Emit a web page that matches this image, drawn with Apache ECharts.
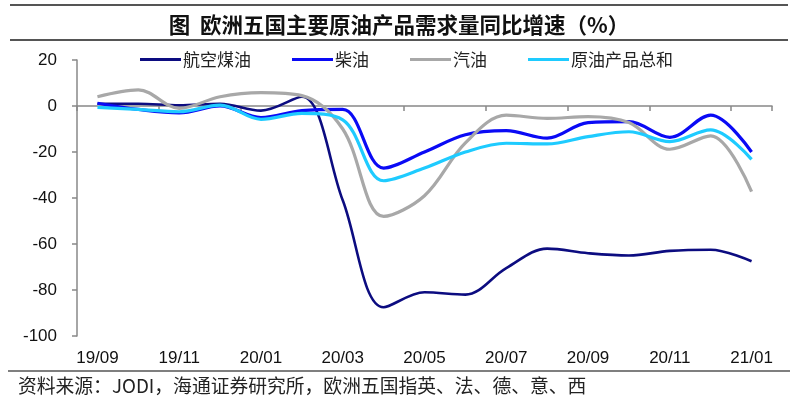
<!DOCTYPE html>
<html>
<head>
<meta charset="utf-8">
<script src="https://cdn.jsdelivr.net/npm/echarts@6/dist/echarts.min.js"></script>
<style>
html,body{margin:0;padding:0;background:#fff;}
#chart{width:798px;height:404px;}
</style>
</head>
<body>
<div id="chart"></div>
<script>
const months = ['19/09','19/10','19/11','19/12','20/01','20/02','20/03','20/04','20/05','20/06','20/07','20/08','20/09','20/10','20/11','20/12','21/01'];
const jetFuel  = [1, 1, 0.3, 1, -2, 4, -41, -87.5, -81, -82, -70.5, -62, -64, -65, -63, -62.5, -67.5];
const diesel   = [1.2, -1.5, -3, 0, -5, -2, -1.5, -27, -20, -12.5, -10.7, -14, -7.2, -6.8, -13.6, -4, -20];
const gasoline = [4, 7, -1, 4, 5.8, 4.5, -10, -48, -39, -16, -4, -5.4, -4.6, -7.2, -18.8, -13, -37.2];
const total    = [-0.6, -1.5, -2.5, 0.4, -5.8, -3.2, -6, -32.5, -27, -20, -16.2, -16.5, -13.3, -11.2, -15.5, -10.4, -23.2];
const seriesNames = ['航空煤油', '柴油', '汽油', '原油产品总和'];
const yTicks = { min: -100, max: 20, step: 20 };
const titleText = '图  欧洲五国主要原油产品需求量同比增速（%）';
const sourceText = '资料来源：JODI，海通证券研究所，欧洲五国指英、法、德、意、西';

const colors = ['#0c0c80', '#0a0af5', '#a8a8a8', '#1ecbff'];
const widths = [2.6, 3.2, 3.2, 3.2];
const dataSets = [jetFuel, diesel, gasoline, total];
const fontLatin = '"Liberation Sans", Arial, "Noto Sans CJK SC", sans-serif';
const fontCJK = '"Noto Sans CJK SC", "Liberation Sans", sans-serif';

const chart = echarts.init(document.getElementById('chart'), null, {renderer: 'canvas'});
chart.setOption({
  backgroundColor: '#fff',
  animation: false,
  title: {
    text: titleText,
    left: 'center',
    top: 9,
    textStyle: { fontFamily: fontCJK, fontSize: 21.5, fontWeight: 'bold', color: '#111' }
  },
  legend: {
    left: 135,
    top: 46,
    itemGap: 41,
    itemWidth: 41,
    itemHeight: 3,
    icon: 'rect',
    data: seriesNames,
    textStyle: { fontFamily: fontCJK, fontSize: 17, color: '#222', padding: [0,0,0,-3] }
  },
  grid: { left: 77, right: 26, top: 60, bottom: 68, containLabel: false },
  xAxis: [
    {
      type: 'category',
      data: months,
      boundaryGap: true,
      position: 'bottom',
      axisLine: { show: false, onZero: false },
      axisTick: { show: false },
      axisLabel: { interval: 1, margin: 14, fontFamily: fontLatin, fontSize: 17, color: '#111' }
    },
    {
      type: 'category',
      data: months,
      boundaryGap: true,
      position: 'bottom',
      axisLine: { show: true, onZero: true, lineStyle: { color: '#888', width: 1.5 } },
      axisTick: { show: true, interval: 1, length: 5, lineStyle: { color: '#888', width: 1.5 } },
      axisLabel: { show: false }
    }
  ],
  yAxis: {
    type: 'value',
    min: yTicks.min,
    max: yTicks.max,
    interval: yTicks.step,
    axisLine: { show: true, lineStyle: { color: '#888', width: 1.5 } },
    axisTick: { show: true, length: 5, lineStyle: { color: '#888', width: 1.5 } },
    splitLine: { show: false },
    axisLabel: { margin: 20, fontFamily: fontLatin, fontSize: 17, color: '#111' }
  },
  series: seriesNames.map((name, i) => ({
    name: name,
    type: 'line',
    xAxisIndex: 0,
    data: dataSets[i],
    smooth: 0.35,
    showSymbol: false,
    symbol: 'none',
    color: colors[i],
    lineStyle: { color: colors[i], width: widths[i] }
  })),
  graphic: [
    { type: 'line', shape: { x1: 10, y1: 5, x2: 788, y2: 5 }, style: { stroke: '#555', lineWidth: 2 } },
    { type: 'line', shape: { x1: 10, y1: 40, x2: 788, y2: 40 }, style: { stroke: '#555', lineWidth: 2 } },
    { type: 'line', shape: { x1: 8, y1: 371, x2: 790, y2: 371 }, style: { stroke: '#555', lineWidth: 1.5 } },
    { type: 'text', left: 18, top: 376, style: { text: sourceText, font: '18.8px ' + fontCJK, fill: '#222' } }
  ]
});
</script>
</body>
</html>
